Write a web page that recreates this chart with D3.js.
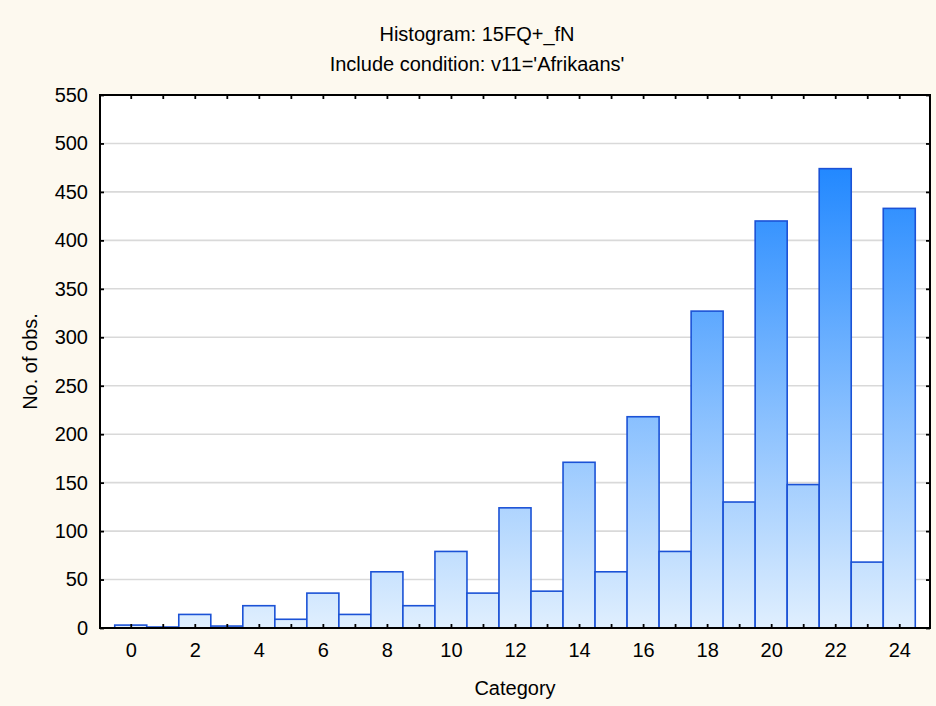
<!DOCTYPE html>
<html>
<head>
<meta charset="utf-8">
<script src="https://cdn.jsdelivr.net/npm/d3@7"></script>
<style>
  html, body { margin: 0; padding: 0; background: #fdf9ef; }
  svg { display: block; }
  text { font-family: "Liberation Sans", Arial, sans-serif; fill: #000; }
</style>
</head>
<body>
<script>
// ---- data ----
const categories = [0,1,2,3,4,5,6,7,8,9,10,11,12,13,14,15,16,17,18,19,20,21,22,23,24];
const counts = [3,1,14,2,23,9,36,14,58,23,79,36,124,38,171,58,218,79,327,130,420,148,474,68,433];
const yTickValues = [0,50,100,150,200,250,300,350,400,450,500,550];
const xTickLabels = ["0","2","4","6","8","10","12","14","16","18","20","22","24"];
const titleLines = ["Histogram: 15FQ+_fN", "Include condition: v11='Afrikaans'"];
const xTitle = "Category";
const yTitle = "No. of obs.";

// ---- layout ----
const W = 936, H = 706;
const pL = 100, pR = 930, pT = 95, pB = 628;
const FS = 20;

const svg = d3.select("body").append("svg")
  .attr("width", W).attr("height", H);

svg.append("rect").attr("width", W).attr("height", H).attr("fill", "#fdf9ef");

const x = d3.scaleLinear().domain([-0.96, 24.96]).range([pL, pR]);
const y = d3.scaleLinear().domain([0, 550]).range([pB, pT]);

// gradient
const defs = svg.append("defs");
const grad = defs.append("linearGradient").attr("id", "barGrad")
  .attr("gradientUnits", "userSpaceOnUse")
  .attr("x1", 0).attr("x2", 0).attr("y1", y(0)).attr("y2", y(550));
grad.append("stop").attr("offset", 0).attr("stop-color", "#e0effe");
grad.append("stop").attr("offset", 1).attr("stop-color", "#0478ff");

// plot area
svg.append("rect").attr("x", pL).attr("y", pT)
  .attr("width", pR - pL).attr("height", pB - pT).attr("fill", "#fff");

// gridlines
svg.append("g").selectAll("line")
  .data(yTickValues.filter(v => v > 0 && v < 550))
  .join("line")
  .attr("x1", pL).attr("x2", pR)
  .attr("y1", d => y(d)).attr("y2", d => y(d))
  .attr("stroke", "#d9d9d9").attr("stroke-width", 1.6);

// bars
svg.append("g").selectAll("rect")
  .data(categories.map((c, i) => ({c, v: counts[i]})))
  .join("rect")
  .attr("x", d => x(d.c - 0.5))
  .attr("width", d => x(d.c + 0.5) - x(d.c - 0.5))
  .attr("y", d => y(d.v))
  .attr("height", d => y(0) - y(d.v))
  .attr("fill", "url(#barGrad)")
  .attr("stroke", "#1b52d6").attr("stroke-width", 1.6);

// axes
const fmtX = d => (xTickLabels.includes(String(d)) ? String(d) : "");
const axB = d3.axisBottom(x).tickValues(categories).tickSize(-4).tickPadding(15).tickFormat(fmtX);
const axT = d3.axisTop(x).tickValues(categories).tickSize(-4).tickFormat("");
const axL = d3.axisLeft(y).tickValues(yTickValues).tickSize(-4).tickPadding(12).tickFormat(d3.format("d"));
const axR = d3.axisRight(y).tickValues(yTickValues).tickSize(-4).tickFormat("");

function style(g) {
  g.select(".domain").remove();
  g.selectAll(".tick line").attr("stroke", "#000").attr("stroke-width", 1.8);
  g.selectAll("text").attr("font-size", FS).attr("font-family", "Liberation Sans, Arial, sans-serif");
}
svg.append("g").attr("transform", `translate(0,${pB})`).call(axB).call(style);
svg.append("g").attr("transform", `translate(0,${pT})`).call(axT).call(style);
svg.append("g").attr("transform", `translate(${pL},0)`).call(axL).call(style);
svg.append("g").attr("transform", `translate(${pR},0)`).call(axR).call(style);

// frame
svg.append("rect").attr("x", pL).attr("y", pT)
  .attr("width", pR - pL).attr("height", pB - pT)
  .attr("fill", "none").attr("stroke", "#000").attr("stroke-width", 2);

// titles
svg.append("text").attr("x", 477).attr("y", 41).attr("text-anchor", "middle")
  .attr("font-size", FS).text(titleLines[0]);
svg.append("text").attr("x", 477).attr("y", 71).attr("text-anchor", "middle")
  .attr("font-size", FS).text(titleLines[1]);
svg.append("text").attr("x", (pL + pR) / 2).attr("y", 695).attr("text-anchor", "middle")
  .attr("font-size", FS).text(xTitle);
svg.append("text").attr("transform", `translate(37,${(pT + pB) / 2}) rotate(-90)`)
  .attr("text-anchor", "middle").attr("font-size", FS).text(yTitle);
</script>
</body>
</html>
